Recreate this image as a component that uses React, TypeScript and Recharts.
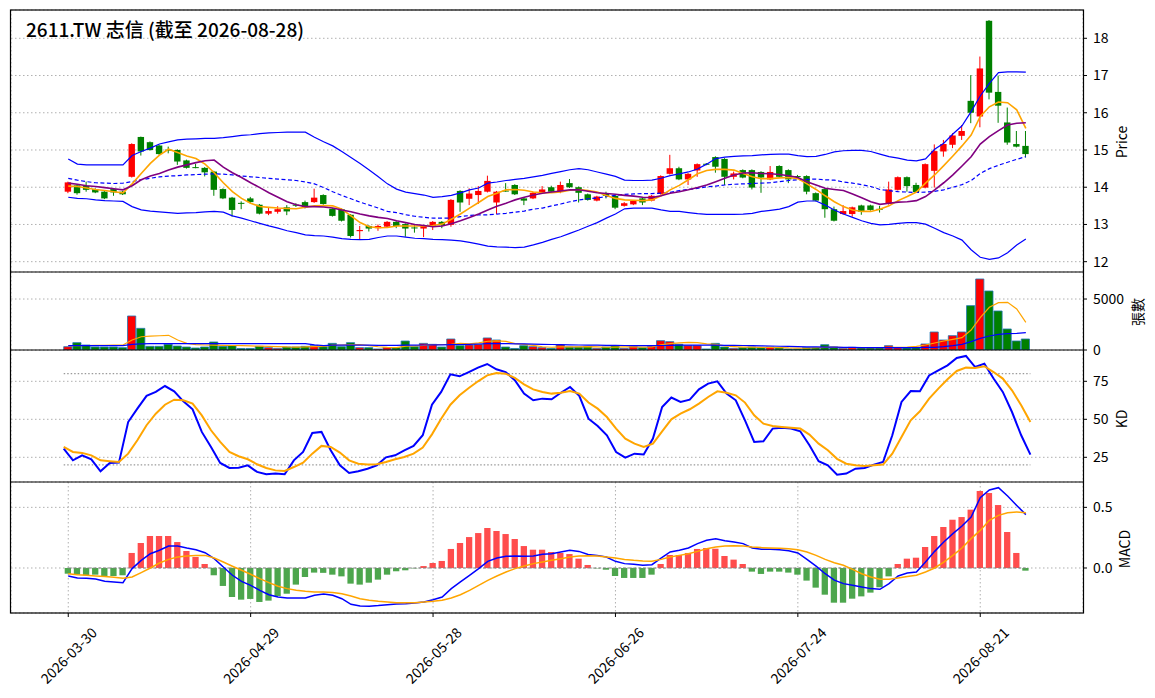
import React from "react";
import {
  Bar,
  CartesianGrid,
  Cell,
  ComposedChart,
  Line,
  ReferenceLine,
  XAxis,
  YAxis,
} from "recharts";

const FONT = '"Noto Sans CJK TC", "Noto Sans", sans-serif';
const RED = "#ff0000";
const GREEN = "#008000";

// Taiwan market holidays inside the range (dates are trading days only)
const HOLIDAYS = ["2026-04-03", "2026-04-06", "2026-05-01", "2026-06-19"];
const TICK_DATES = ["2026-03-30", "2026-04-29", "2026-05-28", "2026-06-26", "2026-07-24", "2026-08-21"];

function tradingDays(start: string, end: string): string[] {
  const out: string[] = [];
  const d = new Date(start + "T00:00:00Z");
  const e = new Date(end + "T00:00:00Z");
  while (d <= e) {
    const wd = d.getUTCDay();
    const s = d.toISOString().slice(0, 10);
    if (wd !== 0 && wd !== 6 && !HOLIDAYS.includes(s)) out.push(s);
    d.setUTCDate(d.getUTCDate() + 1);
  }
  return out;
}

const dates = tradingDays("2026-03-30", "2026-08-28");

const open = [
  13.88, 14.05, 14.04, 13.95, 13.88, 13.95, 13.88, 14.28, 15.35, 15.21,
  15.12, 15.01, 15.0, 14.72, 14.54, 14.52, 14.42, 13.95, 13.72, 13.58,
  13.7, 13.53, 13.29, 13.34, 13.46, 13.53, 13.6, 13.6, 13.79, 13.42,
  13.41, 13.26, 12.82, 12.96, 12.9, 12.94, 13.07, 13.01, 12.92, 12.89,
  12.96, 13.07, 12.99, 13.9, 13.69, 13.79, 13.88, 13.59, 13.91, 14.06,
  13.7, 13.7, 13.84, 14.0, 13.88, 14.11, 14.0, 13.81, 13.64, 13.84,
  13.77, 13.5, 13.54, 13.7, 13.64, 13.82, 14.36, 14.51, 14.21, 14.45,
  14.63, 14.81, 14.76, 14.28, 14.46, 14.46, 14.41, 14.21, 14.57, 14.46,
  14.3, 14.3, 13.84, 13.95, 13.41, 13.28, 13.28, 13.51, 13.51, 13.42,
  13.55, 13.93, 14.27, 14.06, 13.99, 14.44, 14.96, 15.14, 15.38, 16.32,
  15.9, 18.47, 16.56, 15.74, 15.16, 15.11,
];
const high = [
  14.15, 14.07, 14.15, 13.97, 13.9, 13.98, 13.9, 15.18, 15.36, 15.23,
  15.14, 15.09, 15.02, 14.74, 14.63, 14.54, 14.44, 13.97, 13.74, 13.62,
  13.74, 13.55, 13.47, 13.49, 13.52, 13.57, 13.64, 13.96, 13.81, 13.44,
  13.43, 13.28, 12.96, 12.98, 13.0, 13.09, 13.09, 13.03, 13.0, 12.98,
  13.09, 13.09, 13.68, 13.92, 13.97, 14.03, 14.31, 13.9, 14.11, 14.08,
  13.72, 13.87, 14.03, 14.04, 14.15, 14.22, 14.02, 13.83, 13.77, 13.88,
  13.79, 13.6, 13.65, 13.72, 13.79, 14.32, 14.87, 14.55, 14.38, 14.64,
  14.65, 14.83, 14.78, 14.42, 14.48, 14.48, 14.43, 14.57, 14.59, 14.48,
  14.33, 14.32, 13.86, 13.97, 13.48, 13.52, 13.48, 13.53, 13.53, 13.5,
  14.15, 14.29, 14.29, 14.12, 14.64, 15.15, 15.27, 15.45, 15.67, 17.01,
  17.51, 18.49, 17.0, 16.14, 15.51, 15.51,
];
const low = [
  13.84, 13.8, 13.88, 13.84, 13.68, 13.77, 13.79, 14.26, 14.85, 14.98,
  14.87, 14.91, 14.6, 14.5, 14.51, 14.29, 13.77, 13.68, 13.21, 13.41,
  13.56, 13.27, 13.25, 13.29, 13.25, 13.47, 13.43, 13.58, 13.53, 13.21,
  13.08, 12.65, 12.6, 12.81, 12.83, 12.92, 12.9, 12.67, 12.78, 12.66,
  12.85, 12.9, 12.94, 13.34, 13.52, 13.55, 13.86, 13.28, 13.88, 13.79,
  13.52, 13.68, 13.82, 13.86, 13.84, 13.98, 13.59, 13.64, 13.62, 13.7,
  13.41, 13.48, 13.52, 13.52, 13.62, 13.8, 14.34, 14.19, 14.06, 14.28,
  14.59, 14.39, 14.06, 14.21, 14.24, 13.94, 13.85, 14.19, 14.26, 14.11,
  14.24, 13.81, 13.62, 13.18, 13.08, 13.26, 13.21, 13.26, 13.37, 13.32,
  13.53, 13.91, 13.88, 13.85, 13.97, 13.99, 14.82, 15.05, 15.27, 15.72,
  15.61, 16.36, 15.73, 15.14, 15.07, 14.8,
];
const close = [
  14.13, 13.84, 13.93, 13.86, 13.7, 13.86, 13.81, 15.16, 14.96, 15.0,
  14.89, 14.99, 14.69, 14.52, 14.53, 14.4, 13.93, 13.7, 13.39, 13.56,
  13.6, 13.29, 13.36, 13.41, 13.35, 13.51, 13.46, 13.72, 13.55, 13.23,
  13.1, 12.69, 12.85, 12.89, 12.96, 13.07, 12.96, 12.89, 12.9, 12.96,
  13.07, 12.98, 13.66, 13.59, 13.83, 13.9, 14.17, 13.88, 13.9, 13.81,
  13.64, 13.85, 13.94, 13.88, 14.06, 14.0, 13.85, 13.66, 13.75, 13.77,
  13.45, 13.57, 13.63, 13.59, 13.77, 14.3, 14.51, 14.21, 14.36, 14.62,
  14.61, 14.55, 14.28, 14.37, 14.26, 13.99, 14.26, 14.41, 14.28, 14.21,
  14.28, 13.88, 13.64, 13.41, 13.1, 13.36, 13.46, 13.34, 13.39, 13.41,
  13.94, 14.27, 14.03, 13.87, 14.62, 14.97, 15.16, 15.39, 15.51, 16.0,
  17.19, 16.54, 16.19, 15.2, 15.09, 14.89,
];
const volume = [
  327, 720, 490, 300, 294, 294, 230, 3335, 2125, 360,
  360, 556, 390, 294, 196, 294, 785, 360, 425, 150,
  150, 360, 230, 160, 294, 294, 360, 425, 327, 650,
  327, 720, 230, 230, 100, 230, 230, 880, 327, 650,
  556, 294, 1080, 425, 490, 556, 1180, 980, 294, 150,
  425, 327, 230, 160, 490, 294, 294, 360, 160, 294,
  425, 160, 327, 230, 360, 915, 817, 556, 425, 425,
  100, 650, 294, 160, 230, 294, 230, 294, 230, 100,
  100, 230, 230, 520, 294, 160, 260, 230, 230, 230,
  425, 230, 200, 230, 590, 1766, 980, 1406, 1766, 4350,
  6965, 5788, 3826, 2060, 883, 1079,
];
const volMa5 = [
  425, 430, 440, 450, 460, 470, 490, 980, 1300, 1370,
  1400, 1440, 980, 650, 520, 490, 470, 460, 440, 420,
  400, 380, 360, 330, 300, 290, 300, 330, 360, 470,
  490, 520, 540, 420, 320, 260, 230, 380, 400, 450,
  530, 540, 560, 640, 600, 700, 860, 900, 840, 620,
  560, 460, 320, 270, 310, 300, 300, 340, 310, 270,
  280, 300, 310, 290, 300, 500, 620, 700, 740, 720,
  600, 560, 400, 340, 290, 280, 250, 260, 240, 200,
  180, 170, 220, 260, 280, 229, 229, 229, 229, 229,
  262, 262, 294, 360, 490, 687, 883, 1046, 1210, 1962,
  3172, 4186, 4643, 4676, 4022, 2714,
];
const volMa20 = [
  425, 425, 425, 425, 425, 425, 425, 560, 600, 620,
  620, 620, 620, 620, 620, 620, 620, 620, 620, 620,
  620, 620, 620, 620, 620, 620, 620, 500, 430, 470,
  470, 480, 480, 470, 460, 450, 450, 470, 480, 490,
  500, 500, 520, 540, 560, 590, 620, 630, 620, 610,
  600, 580, 560, 540, 520, 500, 490, 480, 470, 460,
  450, 440, 430, 420, 420, 440, 460, 470, 480, 480,
  470, 470, 460, 450, 440, 430, 410, 390, 370, 350,
  330, 310, 300, 290, 280, 260, 250, 240, 240, 235,
  235, 235, 235, 235, 262, 262, 327, 425, 556, 818,
  1145, 1373, 1537, 1602, 1635, 1700,
];
const bbUpper = [
  14.76, 14.62, 14.6, 14.6, 14.6, 14.6, 14.6, 14.85, 14.96, 15.05,
  15.16, 15.22, 15.27, 15.29, 15.3, 15.31, 15.31, 15.33, 15.36, 15.39,
  15.41, 15.44, 15.46, 15.47, 15.48, 15.48, 15.48, 15.34, 15.22, 15.11,
  14.96, 14.8, 14.64, 14.46, 14.28, 14.09, 13.95, 13.87, 13.83, 13.79,
  13.73, 13.75, 13.78, 13.85, 13.93, 13.98, 14.11, 14.14, 14.18, 14.21,
  14.24, 14.28, 14.32, 14.37, 14.42, 14.47, 14.5, 14.47, 14.41, 14.35,
  14.29, 14.19, 14.18, 14.18, 14.19, 14.24, 14.31, 14.36, 14.41, 14.49,
  14.62, 14.77, 14.81, 14.83, 14.84, 14.85, 14.87, 14.88, 14.89, 14.89,
  14.85, 14.82, 14.83, 14.88, 14.95, 14.98, 14.99, 14.99, 14.96, 14.89,
  14.82, 14.78, 14.73, 14.71, 14.76, 15.02, 15.18, 15.43, 15.65, 16.03,
  16.45, 16.79, 17.08, 17.1, 17.1, 17.09,
];
const bbMid = [
  14.24, 14.19, 14.15, 14.12, 14.11, 14.1, 14.11, 14.15, 14.2, 14.24,
  14.28, 14.3, 14.31, 14.33, 14.34, 14.35, 14.36, 14.35, 14.33, 14.3,
  14.28, 14.26, 14.24, 14.22, 14.2, 14.18, 14.14, 14.09, 13.99, 13.88,
  13.78, 13.69, 13.6, 13.52, 13.44, 13.35, 13.32, 13.26, 13.22, 13.19,
  13.17, 13.17, 13.17, 13.21, 13.24, 13.26, 13.26, 13.28, 13.3, 13.33,
  13.36, 13.41, 13.44, 13.5, 13.55, 13.61, 13.66, 13.69, 13.71, 13.75,
  13.78, 13.81, 13.82, 13.83, 13.83, 13.84, 13.86, 13.91, 13.94, 13.97,
  14.01, 14.03, 14.06, 14.08, 14.09, 14.1, 14.11, 14.12, 14.15, 14.18,
  14.2, 14.21, 14.22, 14.2, 14.19, 14.14, 14.11, 14.07, 14.02, 13.94,
  13.91, 13.88, 13.87, 13.86, 13.87, 13.89, 13.93, 14.0, 14.07, 14.18,
  14.37, 14.5, 14.59, 14.67, 14.75, 14.82,
];
const bbLower = [
  13.73, 13.7, 13.69, 13.66, 13.64, 13.63, 13.62, 13.48, 13.39, 13.36,
  13.34, 13.32, 13.3, 13.31, 13.32, 13.34, 13.35, 13.33, 13.23, 13.17,
  13.1, 13.03, 12.96, 12.9, 12.83, 12.78, 12.72, 12.7, 12.69, 12.66,
  12.62, 12.6, 12.59, 12.6, 12.65, 12.69, 12.69, 12.66, 12.63, 12.62,
  12.6, 12.59, 12.58, 12.56, 12.52, 12.47, 12.42, 12.4, 12.39, 12.38,
  12.39, 12.45, 12.52, 12.6, 12.67, 12.76, 12.85, 12.95, 13.05, 13.17,
  13.28, 13.42, 13.44, 13.44, 13.44, 13.39, 13.35, 13.35, 13.32, 13.29,
  13.27, 13.27, 13.27, 13.27, 13.28, 13.3, 13.35, 13.38, 13.41, 13.48,
  13.6, 13.63, 13.63, 13.52, 13.39, 13.28, 13.19, 13.1, 13.03, 12.99,
  13.0, 13.03, 13.05, 13.05, 13.01, 12.9, 12.78, 12.69, 12.58, 12.32,
  12.12, 12.06, 12.1, 12.24, 12.45, 12.61,
];
const ma5 = [
  14.03, 14.02, 13.98, 13.94, 13.91, 13.88, 13.85, 14.09, 14.37, 14.64,
  14.86, 15.02, 14.93, 14.84, 14.77, 14.62, 14.39, 14.12, 13.88, 13.7,
  13.57, 13.48, 13.46, 13.44, 13.43, 13.42, 13.46, 13.5, 13.51, 13.5,
  13.41, 13.23, 13.05, 12.94, 12.91, 12.92, 12.96, 12.96, 12.96, 12.96,
  12.97, 13.01, 13.14, 13.28, 13.44, 13.59, 13.75, 13.84, 13.93, 13.94,
  13.92, 13.87, 13.85, 13.85, 13.87, 13.92, 13.94, 13.91, 13.87, 13.78,
  13.7, 13.66, 13.65, 13.64, 13.66, 13.77, 13.93, 14.05, 14.2, 14.36,
  14.45, 14.48, 14.48, 14.46, 14.37, 14.28, 14.23, 14.23, 14.25, 14.26,
  14.23, 14.09, 13.94, 13.77, 13.61, 13.48, 13.39, 13.35, 13.35, 13.41,
  13.5, 13.64, 13.75, 13.87, 14.11, 14.33, 14.58, 14.84, 15.11, 15.4,
  15.9, 16.16, 16.29, 16.27, 16.08, 15.58,
];
const ma10 = [
  14.11, 14.08, 14.04, 14.02, 13.99, 13.96, 13.93, 14.04, 14.2, 14.3,
  14.37, 14.46, 14.54, 14.6, 14.66, 14.71, 14.73, 14.54, 14.39, 14.26,
  14.12, 13.99, 13.85, 13.73, 13.61, 13.53, 13.48, 13.48, 13.47, 13.44,
  13.39, 13.34, 13.28, 13.23, 13.19, 13.16, 13.1, 13.05, 13.0, 12.97,
  12.94, 12.96, 13.02, 13.1, 13.19, 13.28, 13.39, 13.49, 13.57, 13.66,
  13.73, 13.79, 13.84, 13.87, 13.9, 13.93, 13.93, 13.89, 13.85, 13.83,
  13.81, 13.78, 13.76, 13.73, 13.72, 13.77, 13.84, 13.88, 13.93, 13.99,
  14.06, 14.15, 14.24, 14.33, 14.38, 14.39, 14.37, 14.36, 14.34, 14.31,
  14.26, 14.15, 14.06, 13.97, 13.94, 13.91, 13.82, 13.72, 13.61, 13.54,
  13.57, 13.6, 13.61, 13.64, 13.75, 13.93, 14.12, 14.33, 14.57, 14.82,
  15.16, 15.36, 15.52, 15.67, 15.72, 15.73,
];
const kLine = [
  30.7, 23.0, 26.3, 23.7, 15.8, 21.3, 21.5, 48.2, 57.0, 65.4,
  68.0, 71.9, 68.4, 61.8, 56.6, 41.7, 31.8, 21.3, 18.0, 18.2,
  19.7, 15.4, 13.8, 14.3, 13.8, 23.0, 28.5, 41.0, 41.7, 29.6,
  19.7, 14.7, 15.8, 17.5, 19.7, 25.0, 26.3, 29.6, 32.5, 39.5,
  59.6, 68.0, 79.6, 78.3, 81.1, 84.0, 86.4, 82.9, 81.1, 75.7,
  66.9, 62.5, 63.6, 63.2, 67.5, 71.3, 65.4, 50.4, 45.6, 39.5,
  28.5, 24.8, 27.4, 26.8, 37.3, 58.1, 64.3, 61.4, 62.9, 69.7,
  73.5, 75.0, 66.9, 62.5, 49.3, 35.1, 35.5, 43.9, 44.5, 43.9,
  42.1, 32.9, 22.4, 19.7, 13.6, 14.3, 17.5, 18.0, 20.2, 21.9,
  39.5, 61.4, 68.6, 68.4, 78.9, 82.2, 85.5, 90.4, 91.7, 84.4,
  86.6, 76.8, 68.0, 54.8, 39.5, 26.8,
];
const dLine = [
  31.8, 28.5, 27.9, 26.3, 23.0, 22.4, 21.9, 27.4, 36.2, 46.1,
  53.7, 59.6, 62.9, 62.5, 60.3, 52.6, 42.8, 35.1, 28.5, 25.7,
  23.7, 20.4, 18.0, 16.4, 16.0, 18.6, 21.5, 27.4, 32.5, 31.8,
  28.1, 23.0, 20.8, 20.2, 20.4, 21.9, 23.7, 25.2, 27.4, 31.4,
  40.1, 50.4, 59.6, 65.8, 70.6, 75.0, 78.9, 80.5, 80.0, 77.2,
  73.0, 69.7, 68.0, 66.9, 67.5, 68.6, 66.9, 61.0, 57.0, 51.5,
  43.9, 37.3, 34.0, 31.8, 34.0, 42.1, 50.0, 53.7, 56.6, 60.3,
  64.7, 68.4, 67.5, 65.8, 61.0, 52.6, 47.1, 45.6, 45.0, 44.5,
  43.9, 39.9, 34.0, 29.6, 24.0, 20.8, 19.7, 19.3, 19.7, 20.2,
  27.4, 38.4, 49.3, 55.3, 63.6, 70.2, 76.3, 81.8, 84.0, 83.8,
  84.9, 81.1, 76.8, 69.1, 59.2, 48.2,
];
const dif = [
  -0.066, -0.082, -0.085, -0.091, -0.11, -0.115, -0.121, -0.005, 0.063, 0.118,
  0.146, 0.181, 0.181, 0.165, 0.151, 0.126, 0.077, 0.008, -0.06, -0.11,
  -0.143, -0.184, -0.22, -0.239, -0.247, -0.247, -0.247, -0.225, -0.215, -0.225,
  -0.253, -0.299, -0.313, -0.316, -0.31, -0.302, -0.297, -0.294, -0.288, -0.28,
  -0.261, -0.239, -0.17, -0.115, -0.06, -0.005, 0.055, 0.082, 0.096, 0.099,
  0.096, 0.099, 0.113, 0.118, 0.132, 0.146, 0.137, 0.112, 0.104, 0.091,
  0.055, 0.036, 0.03, 0.022, 0.027, 0.082, 0.132, 0.146, 0.165, 0.201,
  0.228, 0.242, 0.225, 0.214, 0.201, 0.165, 0.154, 0.154, 0.151, 0.143,
  0.124, 0.071, 0.016, -0.047, -0.1, -0.129, -0.143, -0.157, -0.17, -0.176,
  -0.129, -0.066, -0.041, -0.033, 0.049, 0.137, 0.214, 0.283, 0.346, 0.42,
  0.58, 0.643, 0.662, 0.593, 0.516, 0.44,
];
const dea = [
  -0.047, -0.055, -0.06, -0.066, -0.071, -0.077, -0.085, -0.074, -0.038, 0,
  0.041, 0.071, 0.091, 0.099, 0.104, 0.104, 0.082, 0.049, 0.014, -0.019,
  -0.052, -0.088, -0.121, -0.151, -0.17, -0.184, -0.192, -0.198, -0.198, -0.203,
  -0.212, -0.231, -0.253, -0.266, -0.275, -0.28, -0.286, -0.286, -0.286, -0.28,
  -0.275, -0.266, -0.247, -0.22, -0.184, -0.143, -0.102, -0.066, -0.033, -0.005,
  0.016, 0.036, 0.049, 0.063, 0.077, 0.091, 0.099, 0.102, 0.099, 0.091,
  0.082, 0.071, 0.063, 0.058, 0.055, 0.071, 0.091, 0.104, 0.118, 0.137,
  0.159, 0.173, 0.181, 0.184, 0.181, 0.173, 0.168, 0.165, 0.162, 0.159,
  0.151, 0.132, 0.104, 0.071, 0.044, 0.022, -0.011, -0.047, -0.074, -0.093,
  -0.093, -0.082, -0.071, -0.06, -0.033, 0, 0.049, 0.104, 0.165, 0.242,
  0.31, 0.393, 0.434, 0.456, 0.462, 0.456,
];
const osc = [
  -0.047, -0.055, -0.06, -0.055, -0.074, -0.066, -0.06, 0.124, 0.206, 0.264,
  0.264, 0.264, 0.214, 0.14, 0.091, 0.033, -0.06, -0.148, -0.239, -0.261,
  -0.255, -0.28, -0.269, -0.231, -0.212, -0.137, -0.074, -0.038, -0.04, -0.055,
  -0.069, -0.129, -0.137, -0.121, -0.096, -0.055, -0.027, -0.019, -0.003, 0.016,
  0.041, 0.058, 0.157, 0.206, 0.255, 0.288, 0.33, 0.305, 0.28, 0.239,
  0.181, 0.151, 0.151, 0.132, 0.124, 0.115, 0.077, 0.025, -0.003, -0.014,
  -0.066, -0.082, -0.082, -0.082, -0.055, 0.033, 0.107, 0.107, 0.124, 0.157,
  0.165, 0.159, 0.099, 0.069, 0.033, -0.03, -0.049, -0.03, -0.03, -0.038,
  -0.055, -0.104, -0.162, -0.22, -0.286, -0.286, -0.253, -0.234, -0.203, -0.159,
  -0.069, 0.033, 0.077, 0.085, 0.173, 0.264, 0.338, 0.398, 0.42, 0.481,
  0.635, 0.618, 0.519, 0.297, 0.124, -0.022,
];

const rows = dates.map((date, i) => ({
  date,
  open: open[i],
  high: high[i],
  low: low[i],
  close: close[i],
  range: [low[i], high[i]],
  vol: volume[i],
  volMa5: volMa5[i],
  volMa20: volMa20[i],
  upper: bbUpper[i],
  mid: bbMid[i],
  lower: bbLower[i],
  ma5: ma5[i],
  ma10: ma10[i],
  k: kLine[i],
  d: dLine[i],
  dif: dif[i],
  dea: dea[i],
  osc: osc[i],
}));

const W = 1155;
const PLOT_LEFT = 11;
const AXIS_W = 72;
const tickStyle = { fontSize: 14, fill: "#000", fontFamily: FONT };
const gridProps = { stroke: "#b0b0b0", strokeDasharray: "1.5 2.5" };
const xBase = {
  dataKey: "date",
  type: "category" as const,
  ticks: TICK_DATES,
  interval: 0 as const,
  padding: { left: 52.7, right: 52.6 },
};

function Candle(props: any) {
  const { x, y, width, height, payload } = props;
  const top = Math.min(y, y + height);
  const h = Math.abs(height);
  const span = payload.high - payload.low || 1;
  const toY = (v: number) => top + ((payload.high - v) / span) * h;
  const color = payload.close >= payload.open ? RED : GREEN;
  const cx = x + width / 2;
  const bTop = toY(Math.max(payload.open, payload.close));
  const bBot = toY(Math.min(payload.open, payload.close));
  return (
    <g>
      <line x1={cx} x2={cx} y1={top} y2={top + h} stroke={color} strokeWidth={1} />
      <rect x={x} y={bTop} width={width} height={Math.max(bBot - bTop, 1)} fill={color} />
    </g>
  );
}

function DateTick(props: any) {
  const { x, y, payload } = props;
  return (
    <g transform={`translate(${x},${y + 36})`}>
      <text
        textAnchor="middle"
        dominantBaseline="central"
        transform="rotate(-45)"
        fontSize={14}
        fill="#000"
        fontFamily={FONT}
      >
        {payload.value}
      </text>
    </g>
  );
}

function yAxisCommon() {
  return {
    orientation: "right" as const,
    width: AXIS_W,
    type: "number" as const,
    allowDataOverflow: true,
    axisLine: false,
    tickSize: 4,
    tickMargin: 6,
    tickLine: { stroke: "#000" },
    tick: tickStyle,
  };
}

function PriceChart() {
  return (
    <ComposedChart width={W} height={272} data={rows} margin={{ top: 10, right: 0, bottom: 0, left: PLOT_LEFT }}>
      <CartesianGrid {...gridProps} />
      <XAxis {...xBase} tick={false} tickLine={false} axisLine={false} height={0} />
      <YAxis {...yAxisCommon()} domain={[11.723, 18.76]} ticks={[12, 13, 14, 15, 16, 17, 18]} />
      <Line dataKey="upper" stroke="#0000ff" strokeWidth={1.2} dot={false} isAnimationActive={false} />
      <Line dataKey="mid" stroke="#0000ff" strokeWidth={1.2} strokeDasharray="4 2.5" dot={false} isAnimationActive={false} />
      <Line dataKey="lower" stroke="#0000ff" strokeWidth={1.2} dot={false} isAnimationActive={false} />
      <Bar dataKey="range" barSize={6.4} shape={<Candle />} isAnimationActive={false} />
      <Line dataKey="ma5" stroke="#ffa500" strokeWidth={1.6} dot={false} isAnimationActive={false} />
      <Line dataKey="ma10" stroke="#800080" strokeWidth={1.6} dot={false} isAnimationActive={false} />
    </ComposedChart>
  );
}

function VolumeChart() {
  // extra bottom margin keeps the "0" tick label from being clipped
  return (
    <ComposedChart width={W} height={92} data={rows} margin={{ top: 0, right: 0, bottom: 14, left: PLOT_LEFT }}>
      <CartesianGrid {...gridProps} />
      <XAxis {...xBase} tick={false} tickLine={false} axisLine={false} height={0} />
      <YAxis {...yAxisCommon()} domain={[0, 7650]} ticks={[0, 5000]} />
      <Bar dataKey="vol" barSize={8.2} stroke="#1f77b4" strokeWidth={0.8} isAnimationActive={false}>
        {rows.map((r, i) => (
          <Cell key={i} fill={r.close >= r.open ? RED : GREEN} />
        ))}
      </Bar>
      <Line dataKey="volMa5" stroke="#ffa500" strokeWidth={1.2} dot={false} isAnimationActive={false} />
      <Line dataKey="volMa20" stroke="#0000ff" strokeWidth={1.2} dot={false} isAnimationActive={false} />
    </ComposedChart>
  );
}

function KdChart() {
  const first = dates[0];
  const last = dates[dates.length - 1];
  return (
    <ComposedChart width={W} height={132} data={rows} margin={{ top: 0, right: 0, bottom: 0, left: PLOT_LEFT }}>
      <CartesianGrid {...gridProps} />
      <XAxis {...xBase} tick={false} tickLine={false} axisLine={false} height={0} />
      <YAxis {...yAxisCommon()} domain={[8.75, 95.6]} ticks={[25, 50, 75]} />
      <ReferenceLine segment={[{ x: first, y: 80 }, { x: last, y: 80 }]} stroke="#808080" strokeDasharray="1.5 2" />
      <ReferenceLine segment={[{ x: first, y: 20 }, { x: last, y: 20 }]} stroke="#808080" strokeDasharray="1.5 2" />
      <Line dataKey="k" stroke="#0000ff" strokeWidth={2} dot={false} isAnimationActive={false} />
      <Line dataKey="d" stroke="#ffa500" strokeWidth={2} dot={false} isAnimationActive={false} />
    </ComposedChart>
  );
}

function MacdChart() {
  const first = dates[0];
  const last = dates[dates.length - 1];
  return (
    <ComposedChart width={W} height={216} data={rows} margin={{ top: 0, right: 0, bottom: 0, left: PLOT_LEFT }}>
      <CartesianGrid {...gridProps} />
      <XAxis
        {...xBase}
        height={85}
        axisLine={false}
        tickSize={4}
        tickMargin={2}
        tickLine={{ stroke: "#000" }}
        tick={<DateTick />}
      />
      <YAxis
        {...yAxisCommon()}
        domain={[-0.371, 0.709]}
        ticks={[0, 0.5]}
        tickFormatter={(v: number) => v.toFixed(1)}
      />
      <ReferenceLine segment={[{ x: first, y: 0 }, { x: last, y: 0 }]} stroke="#808080" strokeDasharray="3 2" />
      <Bar dataKey="osc" barSize={6.3} isAnimationActive={false}>
        {rows.map((r, i) => (
          <Cell key={i} fill={r.osc >= 0 ? "#ff4d4d" : "#4da64d"} />
        ))}
      </Bar>
      <Line dataKey="dif" stroke="#0000ff" strokeWidth={1.5} dot={false} isAnimationActive={false} />
      <Line dataKey="dea" stroke="#ffa500" strokeWidth={1.5} dot={false} isAnimationActive={false} />
    </ComposedChart>
  );
}

function Overlay() {
  const label = (text: string, cx: number, cy: number) => (
    <text
      x={cx}
      y={cy}
      textAnchor="middle"
      dominantBaseline="central"
      transform={`rotate(-90 ${cx} ${cy})`}
      fontSize={14}
      fill="#000"
      fontFamily={FONT}
    >
      {text}
    </text>
  );
  return (
    <svg width={W} height={698} style={{ position: "absolute", left: 0, top: 0, pointerEvents: "none" }}>
      <rect x={10.5} y={10} width={1073} height={603} fill="none" stroke="#000" strokeWidth={1.2} />
      <line x1={10.5} x2={1083.5} y1={272} y2={272} stroke="#000" strokeWidth={1.2} />
      <line x1={10.5} x2={1083.5} y1={350} y2={350} stroke="#000" strokeWidth={1.2} />
      <line x1={10.5} x2={1083.5} y1={482} y2={482} stroke="#000" strokeWidth={1.2} />
      <text x={26} y={37} fontSize={19} fontWeight={500} fill="#000" fontFamily={FONT}>
        2611.TW 志信 (截至 2026-08-28)
      </text>
      {label("Price", 1121, 142)}
      {label("張數", 1137, 312)}
      {label("KD", 1121, 419)}
      {label("MACD", 1124, 549)}
    </svg>
  );
}

export default function App() {
  return (
    <div style={{ position: "absolute", left: 0, top: 0, width: W, height: 698, background: "#fff", fontFamily: FONT }}>
      <div style={{ position: "absolute", left: 0, top: 0 }}>
        <PriceChart />
      </div>
      <div style={{ position: "absolute", left: 0, top: 272 }}>
        <VolumeChart />
      </div>
      <div style={{ position: "absolute", left: 0, top: 350 }}>
        <KdChart />
      </div>
      <div style={{ position: "absolute", left: 0, top: 482 }}>
        <MacdChart />
      </div>
      <Overlay />
    </div>
  );
}
